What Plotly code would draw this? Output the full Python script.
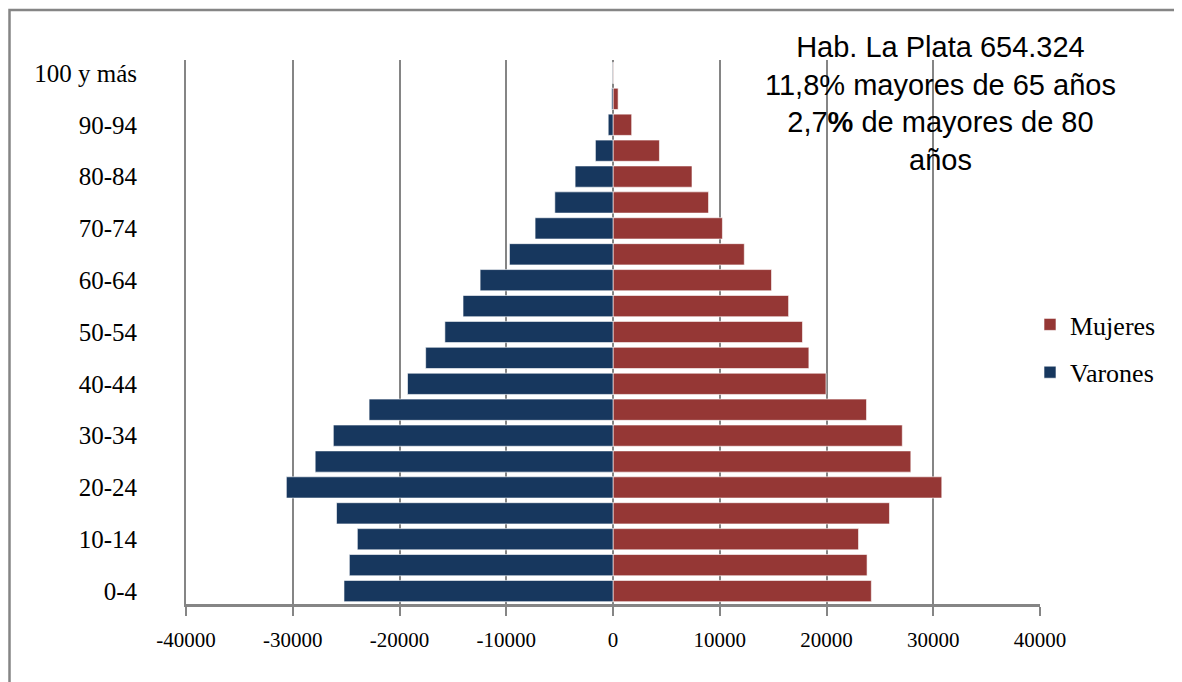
import plotly.graph_objects as go

# ---- data ----
grupos = ["0-4", "5-9", "10-14", "15-19", "20-24", "25-29", "30-34", "35-39",
          "40-44", "45-49", "50-54", "55-59", "60-64", "65-69", "70-74",
          "75-79", "80-84", "85-89", "90-94", "95-99", "100 y más"]
varones = [25200, 24700, 23950, 25900, 30600, 27900, 26200, 22850, 19250,
           17550, 15750, 14050, 12450, 9700, 7300, 5450, 3550, 1650, 450,
           120, 20]
mujeres = [24200, 23800, 23000, 25900, 30800, 27900, 27100, 23750, 19950,
           18350, 17750, 16450, 14850, 12300, 10250, 8950, 7400, 4350, 1750,
           480, 60]
etiquetas_y = grupos[::2]
ticks_x = [-40000, -30000, -20000, -10000, 0, 10000, 20000, 30000, 40000]

# ---- layout geometry (page pixels; the page body adds an 8px offset) ----
OFF = 8
W, H = 1182 - OFF, 682 - OFF
L, R, T, B = 186 - OFF, 1040 - OFF, 60 - OFF, 604 - OFF
pw, ph = R - L, B - T


def px_x(p):
    return (p - OFF - L) / pw


def px_y(p):
    return (B - (p - OFF)) / ph


AZUL = "#17375E"
ROJO = "#953735"
GRIS = "#858585"
SERIF = "Liberation Serif, Times New Roman, serif"

fig = go.Figure()
fig.add_trace(go.Bar(
    y=grupos, x=mujeres, orientation="h", name="Mujeres",
    marker=dict(color=ROJO, line=dict(color="rgba(255,255,255,0.6)", width=1)),
    legendgroup="m",
))
fig.add_trace(go.Bar(
    y=grupos, x=[-v for v in varones], orientation="h", name="Varones",
    marker=dict(color=AZUL, line=dict(color="rgba(255,255,255,0.6)", width=1)),
    legendgroup="v",
))

fig.update_layout(
    width=W, height=H,
    margin=dict(l=L, r=W - R, t=T, b=H - B, pad=0),
    paper_bgcolor="white", plot_bgcolor="white",
    barmode="overlay", bargap=0.18,
    font=dict(family=SERIF, color="black"),
    xaxis=dict(
        range=[-40000, 40000], tickvals=ticks_x,
        ticktext=[str(t) for t in ticks_x],
        showgrid=True, gridcolor=GRIS, gridwidth=2,
        zeroline=False,
        showline=True, linecolor=GRIS, linewidth=3,
        ticks="outside", ticklen=9, tickwidth=2, tickcolor=GRIS,
        tickfont=dict(family=SERIF, size=21, color="black"),
        ticklabelstandoff=6,
    ),
    yaxis=dict(
        type="category", categoryorder="array", categoryarray=grupos,
        range=[-0.5, len(grupos) - 0.5],
        tickvals=etiquetas_y, ticktext=etiquetas_y,
        showgrid=False, zeroline=False,
        showline=True, linecolor=GRIS, linewidth=2,
        ticks="", tickfont=dict(family=SERIF, size=25, color="black"),
        ticklabelstandoff=42,
    ),
    yaxis2=dict(
        overlaying="y", anchor="free", position=0.5, side="left",
        range=[-0.5, len(grupos) - 0.5], showgrid=False, zeroline=False,
        showticklabels=False, showline=True, linecolor=GRIS, linewidth=2,
        ticks="outside", tick0=-0.5, dtick=1, ticklen=8, tickwidth=2,
        tickcolor=GRIS,
        minor=dict(ticks="outside", tick0=0, dtick=1, ticklen=5,
                   tickwidth=2, tickcolor=GRIS),
    ),
    showlegend=True,
    legend=dict(
        x=px_x(1030), y=px_y(301), xanchor="left", yanchor="top",
        traceorder="grouped", tracegroupgap=11,
        font=dict(family=SERIF, size=26, color="black"),
        bgcolor="rgba(0,0,0,0)",
    ),
)

# white panel behind the note (hides the grid lines under it)
fig.add_shape(
    type="rect", xref="paper", yref="paper", layer="between",
    x0=px_x(752), x1=px_x(1132), y0=px_y(196), y1=px_y(16),
    line=dict(width=0), fillcolor="white",
)

fig.add_annotation(
    xref="paper", yref="paper", x=px_x(940), y=px_y(30),
    xanchor="center", yanchor="top", showarrow=False, align="center",
    text="Hab. La Plata 654.324<br>11,8% mayores de 65 años"
         "<br>2,7<b>%</b> de mayores de 80<br>años",
    font=dict(family="Liberation Sans, Arial, sans-serif", size=29,
              color="black"),
    borderpad=0,
)

# outer chart border
fig.add_shape(
    type="rect", xref="paper", yref="paper", layer="above",
    x0=px_x(9.5), x1=px_x(1182 + 20), y0=px_y(682 + 20), y1=px_y(10),
    line=dict(color=GRIS, width=2.5), fillcolor="rgba(0,0,0,0)",
)

fig.write_html("out.html")
